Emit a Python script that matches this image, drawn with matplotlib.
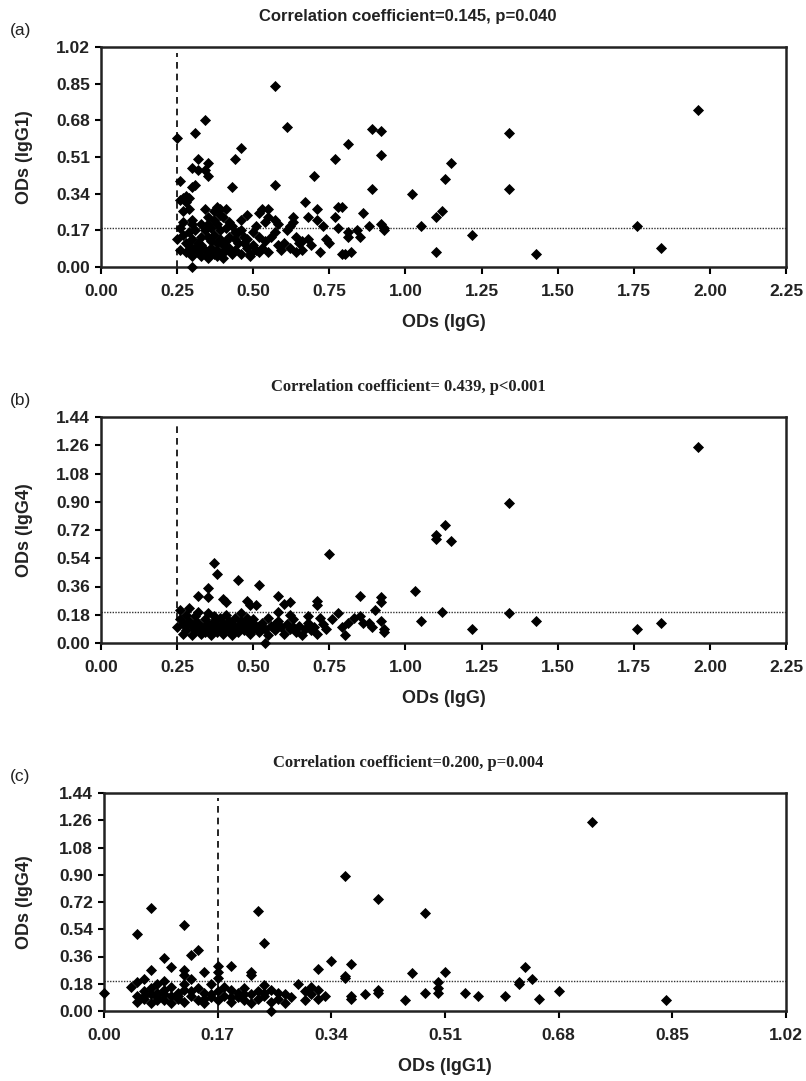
import numpy as np
import matplotlib
matplotlib.use('Agg')
import matplotlib.pyplot as plt

# (ODs IgG, ODs IgG1)
igg_vs_igg1 = [
    (0.25, 0.60), (0.26, 0.40), (0.31, 0.62), (0.34, 0.68), (0.32, 0.50), (0.30, 0.46),
    (0.32, 0.45), (0.34, 0.45), (0.35, 0.48), (0.35, 0.42), (0.30, 0.37), (0.31, 0.38),
    (0.26, 0.31), (0.27, 0.32), (0.28, 0.33), (0.29, 0.32), (0.57, 0.84), (0.61, 0.65),
    (0.44, 0.50), (0.46, 0.55), (0.43, 0.37), (0.57, 0.38), (0.70, 0.42), (0.77, 0.50),
    (0.81, 0.57), (0.89, 0.64), (0.92, 0.63), (0.92, 0.52), (0.89, 0.36), (1.02, 0.34),
    (1.05, 0.19), (1.10, 0.07), (1.10, 0.23), (1.12, 0.26), (1.13, 0.41), (1.15, 0.48),
    (1.22, 0.15), (1.34, 0.62), (1.34, 0.36), (1.43, 0.06), (1.76, 0.19), (1.84, 0.09),
    (1.96, 0.73),
    (0.25, 0.13), (0.26, 0.18), (0.27, 0.21), (0.27, 0.26), (0.29, 0.27), (0.28, 0.30),
    (0.30, 0.22), (0.30, 0.20), (0.29, 0.16), (0.30, 0.13), (0.29, 0.10), (0.30, 0.08),
    (0.32, 0.07), (0.34, 0.08), (0.35, 0.06), (0.37, 0.06), (0.39, 0.06), (0.40, 0.07),
    (0.41, 0.08), (0.32, 0.11), (0.33, 0.14), (0.34, 0.17), (0.35, 0.20), (0.35, 0.23),
    (0.34, 0.27), (0.37, 0.26), (0.38, 0.28), (0.39, 0.27), (0.40, 0.23), (0.41, 0.27),
    (0.42, 0.21), (0.43, 0.19), (0.44, 0.16), (0.44, 0.13), (0.45, 0.16), (0.46, 0.17),
    (0.47, 0.14), (0.47, 0.11), (0.48, 0.09), (0.49, 0.06), (0.49, 0.05), (0.50, 0.10),
    (0.51, 0.08), (0.52, 0.07), (0.53, 0.09), (0.51, 0.19), (0.52, 0.25), (0.53, 0.27),
    (0.55, 0.27), (0.54, 0.21), (0.55, 0.23), (0.57, 0.22), (0.57, 0.16), (0.58, 0.10),
    (0.59, 0.08), (0.60, 0.11), (0.61, 0.17), (0.62, 0.19), (0.63, 0.23), (0.63, 0.21),
    (0.64, 0.14), (0.65, 0.11), (0.66, 0.08), (0.68, 0.13), (0.68, 0.23), (0.67, 0.30),
    (0.71, 0.22), (0.71, 0.27), (0.73, 0.19), (0.74, 0.13), (0.78, 0.28), (0.79, 0.28),
    (0.77, 0.23), (0.78, 0.18), (0.79, 0.06), (0.80, 0.06), (0.82, 0.07), (0.81, 0.14),
    (0.81, 0.16), (0.84, 0.17), (0.85, 0.14), (0.86, 0.25), (0.88, 0.19), (0.92, 0.20),
    (0.93, 0.18), (0.93, 0.17), (0.30, 0.00),
    (0.31, 0.09), (0.33, 0.10), (0.36, 0.09), (0.38, 0.08), (0.36, 0.12), (0.37, 0.15),
    (0.38, 0.11), (0.39, 0.13), (0.40, 0.10), (0.41, 0.12), (0.42, 0.14), (0.39, 0.17),
    (0.38, 0.20), (0.36, 0.18), (0.33, 0.20), (0.31, 0.17), (0.42, 0.09), (0.43, 0.06),
    (0.44, 0.08), (0.45, 0.11), (0.46, 0.06), (0.48, 0.13), (0.40, 0.04), (0.35, 0.14),
    (0.37, 0.22), (0.39, 0.24), (0.41, 0.18), (0.27, 0.15), (0.28, 0.11), (0.26, 0.08),
    (0.28, 0.07), (0.30, 0.05), (0.33, 0.05), (0.35, 0.04), (0.38, 0.05), (0.54, 0.12),
    (0.56, 0.14), (0.52, 0.14), (0.50, 0.16), (0.55, 0.07), (0.62, 0.09), (0.66, 0.12),
    (0.69, 0.10), (0.72, 0.07), (0.75, 0.11), (0.64, 0.07), (0.58, 0.20), (0.48, 0.24),
    (0.46, 0.22),
]

# (ODs IgG, ODs IgG4)
igg_vs_igg4 = [
    (1.96, 1.25), (1.34, 0.89), (1.13, 0.75), (1.10, 0.69), (1.10, 0.66), (1.15, 0.65),
    (0.75, 0.57), (0.37, 0.51), (0.38, 0.44), (0.45, 0.40), (0.52, 0.37), (0.35, 0.35),
    (1.03, 0.33), (0.32, 0.30), (0.35, 0.29), (0.40, 0.28), (0.41, 0.26), (0.48, 0.27),
    (0.49, 0.24), (0.51, 0.24), (0.58, 0.30), (0.60, 0.25), (0.62, 0.26), (0.71, 0.27),
    (0.71, 0.24), (0.85, 0.30), (0.90, 0.21), (0.92, 0.29), (0.92, 0.26), (1.05, 0.14),
    (1.12, 0.20), (1.22, 0.09), (1.34, 0.19), (1.43, 0.14), (1.76, 0.09), (1.84, 0.13),
    (0.54, 0.00), (0.92, 0.14), (0.93, 0.09), (0.93, 0.07),
    (0.78, 0.19), (0.79, 0.10), (0.80, 0.05), (0.81, 0.13), (0.83, 0.16), (0.85, 0.17),
    (0.86, 0.13), (0.88, 0.13), (0.89, 0.10), (0.76, 0.15), (0.74, 0.09), (0.73, 0.12),
    (0.72, 0.16),
    (0.25, 0.10), (0.26, 0.15), (0.26, 0.21), (0.27, 0.06), (0.27, 0.12), (0.28, 0.18),
    (0.28, 0.08), (0.29, 0.14), (0.29, 0.22), (0.30, 0.05), (0.30, 0.11), (0.31, 0.17),
    (0.31, 0.08), (0.32, 0.13), (0.32, 0.20), (0.33, 0.06), (0.33, 0.10), (0.34, 0.15),
    (0.34, 0.07), (0.35, 0.12), (0.35, 0.19), (0.36, 0.09), (0.36, 0.05), (0.37, 0.14),
    (0.37, 0.17), (0.38, 0.07), (0.38, 0.11), (0.39, 0.16), (0.39, 0.09), (0.40, 0.13),
    (0.40, 0.06), (0.41, 0.18), (0.41, 0.10), (0.42, 0.08), (0.42, 0.14), (0.43, 0.12),
    (0.43, 0.05), (0.44, 0.16), (0.44, 0.09), (0.45, 0.11), (0.45, 0.07), (0.46, 0.14),
    (0.46, 0.19), (0.47, 0.08), (0.47, 0.12), (0.48, 0.10), (0.48, 0.16), (0.49, 0.06),
    (0.49, 0.13), (0.50, 0.09), (0.50, 0.15), (0.51, 0.11), (0.52, 0.07), (0.53, 0.13),
    (0.54, 0.09), (0.55, 0.05), (0.55, 0.16), (0.56, 0.11), (0.57, 0.08), (0.58, 0.14),
    (0.58, 0.20), (0.59, 0.10), (0.60, 0.06), (0.61, 0.12), (0.62, 0.09), (0.63, 0.15),
    (0.64, 0.07), (0.65, 0.11), (0.66, 0.05), (0.67, 0.09), (0.68, 0.13), (0.69, 0.08),
    (0.70, 0.10), (0.71, 0.06), (0.68, 0.17), (0.62, 0.18),
    (0.28, 0.12), (0.31, 0.13), (0.34, 0.11), (0.37, 0.09), (0.40, 0.11), (0.43, 0.09),
    (0.46, 0.10), (0.52, 0.11), (0.57, 0.12), (0.63, 0.10),
]

# (ODs IgG1, ODs IgG4)
igg1_vs_igg4 = [
    (0.00, 0.12), (0.05, 0.51), (0.07, 0.68), (0.12, 0.57), (0.23, 0.66), (0.24, 0.45),
    (0.09, 0.35), (0.10, 0.29), (0.07, 0.27), (0.13, 0.37), (0.14, 0.40), (0.12, 0.27),
    (0.12, 0.24), (0.15, 0.26), (0.17, 0.30), (0.17, 0.26), (0.19, 0.30), (0.22, 0.26),
    (0.22, 0.24), (0.25, 0.00), (0.32, 0.28), (0.34, 0.33), (0.36, 0.23), (0.36, 0.22),
    (0.37, 0.31), (0.29, 0.18), (0.37, 0.08), (0.37, 0.10), (0.39, 0.11), (0.41, 0.14),
    (0.41, 0.12), (0.45, 0.07), (0.46, 0.25), (0.48, 0.12), (0.48, 0.65), (0.41, 0.74),
    (0.36, 0.89), (0.73, 1.25), (0.50, 0.19), (0.50, 0.15), (0.50, 0.12), (0.51, 0.26),
    (0.54, 0.12), (0.56, 0.10), (0.60, 0.10), (0.62, 0.18), (0.62, 0.19), (0.63, 0.29),
    (0.64, 0.21), (0.65, 0.08), (0.68, 0.13), (0.84, 0.07),
    (0.04, 0.16), (0.05, 0.10), (0.05, 0.06), (0.05, 0.19), (0.06, 0.13), (0.06, 0.08),
    (0.06, 0.21), (0.07, 0.11), (0.07, 0.15), (0.07, 0.05), (0.08, 0.09), (0.08, 0.18),
    (0.08, 0.12), (0.09, 0.07), (0.09, 0.14), (0.09, 0.20), (0.10, 0.10), (0.10, 0.05),
    (0.10, 0.16), (0.11, 0.12), (0.11, 0.08), (0.12, 0.18), (0.12, 0.06), (0.12, 0.14),
    (0.13, 0.10), (0.13, 0.21), (0.14, 0.07), (0.14, 0.15), (0.15, 0.12), (0.15, 0.05),
    (0.16, 0.09), (0.16, 0.18), (0.17, 0.13), (0.17, 0.07), (0.17, 0.22), (0.18, 0.16),
    (0.18, 0.10), (0.19, 0.06), (0.19, 0.14), (0.20, 0.09), (0.20, 0.12), (0.21, 0.07),
    (0.21, 0.15), (0.22, 0.11), (0.22, 0.05), (0.23, 0.13), (0.23, 0.08), (0.24, 0.17),
    (0.24, 0.10), (0.25, 0.06), (0.25, 0.14), (0.26, 0.12), (0.26, 0.08), (0.27, 0.11),
    (0.27, 0.05), (0.28, 0.09), (0.30, 0.13), (0.31, 0.11), (0.31, 0.16), (0.32, 0.08),
    (0.32, 0.14), (0.33, 0.10), (0.30, 0.07),
    (0.06, 0.10), (0.08, 0.07), (0.09, 0.11), (0.11, 0.10), (0.13, 0.13), (0.15, 0.08),
    (0.16, 0.11), (0.19, 0.09), (0.21, 0.11), (0.24, 0.12),
]

panels = [
    dict(points=igg_vs_igg1, letter='(a)', title='Correlation coefficient=0.145, p=0.040',
         serif=False, xlabel='ODs (IgG)', ylabel='ODs (IgG1)',
         xmax=2.25, xstep=0.25, ymax=1.02, ystep=0.17, vline=0.25, hline=0.18),
    dict(points=igg_vs_igg4, letter='(b)', title='Correlation coefficient= 0.439, p<0.001',
         serif=True, xlabel='ODs (IgG)', ylabel='ODs (IgG4)',
         xmax=2.25, xstep=0.25, ymax=1.44, ystep=0.18, vline=0.25, hline=0.20),
    dict(points=igg1_vs_igg4, letter='(c)', title='Correlation coefficient=0.200, p=0.004',
         serif=True, xlabel='ODs (IgG1)', ylabel='ODs (IgG4)',
         xmax=1.02, xstep=0.17, ymax=1.44, ystep=0.18, vline=0.17, hline=0.20),
]

# axes boxes in pixels: left, top, right, bottom
boxes = [(101, 47, 786, 267), (101, 417, 786, 643), (104, 793, 786, 1011)]

W, H = 806, 1081
fig = plt.figure(figsize=(W / 100, H / 100), dpi=100)
plt.rcParams['font.family'] = 'Liberation Sans'

for p, (l, t, r, b) in zip(panels, boxes):
    ax = fig.add_axes([l / W, 1 - b / H, (r - l) / W, (b - t) / H])
    xs, ys = np.array(p['points']).T
    ax.scatter(xs, ys, marker='D', s=32, color='black', linewidths=0, zorder=3, clip_on=False)

    ax.axvline(p['vline'], ymin=0, ymax=0.975, color='black', lw=1.2, ls=(0, (4, 3)))
    ax.axhline(p['hline'], color='#333333', lw=1.0, ls=(0, (1, 1)))

    ax.set_xlim(0, p['xmax'])
    ax.set_ylim(0, p['ymax'])
    xt = np.arange(0, p['xmax'] + 1e-6, p['xstep'])
    yt = np.arange(0, p['ymax'] + 1e-6, p['ystep'])
    ax.set_xticks(xt)
    ax.set_yticks(yt)
    ax.set_xticklabels(['%.2f' % v for v in xt], fontsize=12.5, fontweight='bold', color='#222222')
    ax.set_yticklabels(['%.2f' % v for v in yt], fontsize=12.5, fontweight='bold', color='#222222')
    ax.tick_params(axis='x', direction='out', length=5, width=1.5, pad=7)
    ax.tick_params(axis='y', direction='out', length=4, width=1.5, pad=4)
    for s in ax.spines.values():
        s.set_linewidth(1.8)
        s.set_color('#222222')

    ax.set_xlabel(p['xlabel'], fontsize=13, fontweight='bold', labelpad=11, color='#222222')
    ax.set_ylabel(p['ylabel'], fontsize=13, fontweight='bold', color='#222222')
    ax.yaxis.set_label_coords((33 - l) / (r - l), 0.5)

    cx = 408 / W
    ty = 1 - (t - 30) / H
    if p['serif']:
        fig.text(cx, ty, p['title'], ha='center', va='center', fontsize=12,
                 fontweight='bold', family='Liberation Serif', color='#222222')
    else:
        fig.text(cx, ty, p['title'], ha='center', va='center', fontsize=12,
                 fontweight='bold', color='#222222')
    fig.text(10 / W, 1 - (t - 30 + 14) / H, p['letter'], ha='left', va='center',
             fontsize=12.5, color='#222222')

fig.savefig('out.png', dpi=100)
